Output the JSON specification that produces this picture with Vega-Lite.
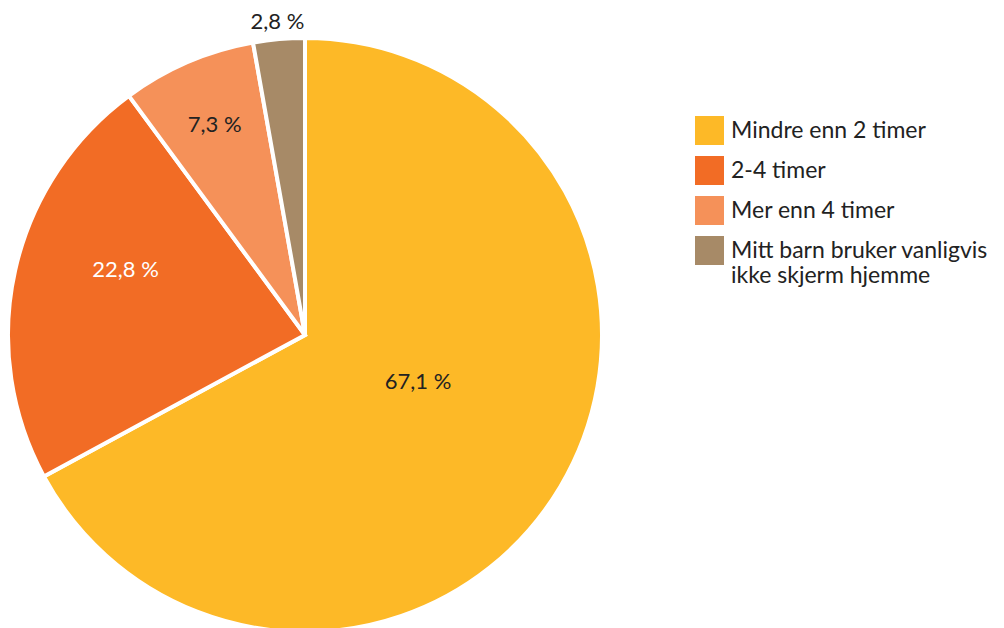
{
  "$schema": "https://vega.github.io/schema/vega-lite/v6.json",
  "width": 610,
  "height": 586,
  "autosize": "none",
  "padding": {"left": 0, "top": 42, "right": 394, "bottom": 0},
  "background": "white",
  "config": {"view": {"stroke": null}, "font": "Lato"},
  "data": {"values": [
    {"cat": "Mindre enn 2 timer", "value": 67.1, "label": "67,1 %"},
    {"cat": "2-4 timer", "value": 22.8, "label": "22,8 %"},
    {"cat": "Mer enn 4 timer", "value": 7.3, "label": "7,3 %"},
    {"cat": "Mitt barn bruker vanligvis ikke skjerm hjemme", "value": 2.8, "label": "2,8 %"}
  ]},
  "encoding": {
    "theta": {"field": "value", "type": "quantitative", "stack": true},
    "order": {"field": "value", "sort": "descending"}
  },
  "layer": [
    {
      "mark": {"type": "arc", "radius": 297, "stroke": "white", "strokeWidth": 4},
      "encoding": {
        "color": {
          "field": "cat", "type": "nominal",
          "scale": {
            "domain": ["Mindre enn 2 timer", "2-4 timer", "Mer enn 4 timer", "Mitt barn bruker vanligvis ikke skjerm hjemme"],
            "range": ["#FDB927", "#F26C25", "#F59159", "#A78A67"]
          },
          "legend": {
            "title": null,
            "orient": "none",
            "legendX": 695,
            "legendY": 74,
            "symbolType": "square",
            "symbolSize": 841,
            "symbolStrokeWidth": 0,
            "labelFont": "Lato",
            "labelFontSize": 23,
            "labelColor": "#222222",
            "labelLimit": 400,
            "labelOffset": 7,
            "rowPadding": 11,
            "labelExpr": "datum.label == 'Mitt barn bruker vanligvis ikke skjerm hjemme' ? ['Mitt barn bruker vanligvis', 'ikke skjerm hjemme'] : datum.label"
          }
        }
      }
    },
    {
      "mark": {"type": "text", "radius": 120, "fontSize": 22, "font": "Lato", "color": "#222222", "dx": 10, "dy": -14},
      "encoding": {"text": {"condition": {"test": "datum.cat == 'Mindre enn 2 timer'", "field": "label"}, "value": ""}}
    },
    {
      "mark": {"type": "text", "radius": 189, "fontSize": 22, "font": "Lato", "color": "white", "dx": 5, "dy": -24},
      "encoding": {"text": {"condition": {"test": "datum.cat == '2-4 timer'", "field": "label"}, "value": ""}}
    },
    {
      "mark": {"type": "text", "radius": 229, "fontSize": 22, "font": "Lato", "color": "#222222"},
      "encoding": {"text": {"condition": {"test": "datum.cat == 'Mer enn 4 timer'", "field": "label"}, "value": ""}}
    },
    {
      "mark": {"type": "text", "radius": 314, "fontSize": 22, "font": "Lato", "color": "#222222"},
      "encoding": {"text": {"condition": {"test": "datum.cat == 'Mitt barn bruker vanligvis ikke skjerm hjemme'", "field": "label"}, "value": ""}}
    }
  ]
}
